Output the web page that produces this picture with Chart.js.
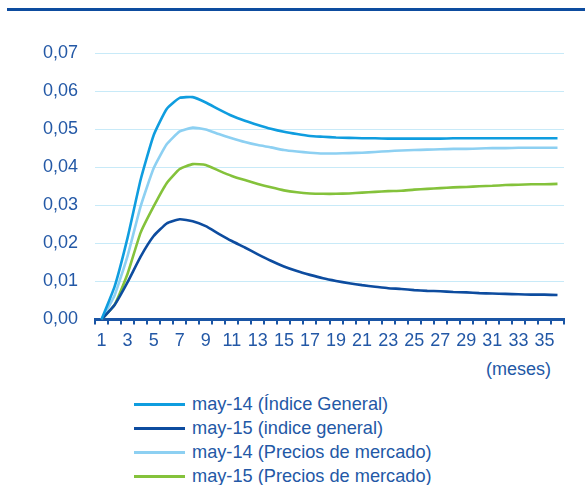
<!DOCTYPE html>
<html><head><meta charset="utf-8">
<script src="https://cdn.jsdelivr.net/npm/chart.js@4"></script>
<style>
html,body{margin:0;padding:0;background:#fff;width:585px;height:485px;overflow:hidden;font-family:"Liberation Sans",Arial,sans-serif;}
#topline{position:absolute;left:7px;top:8px;width:578px;height:3px;background:#0d4c9f;}
#wrap{position:absolute;left:0;top:0;width:585px;height:358px;}
#unit{position:absolute;left:486px;top:359px;font-size:18px;color:#2358a6;}
#legend{position:absolute;left:134px;top:392px;font-size:18.2px;color:#2358a6;}
.li{height:24px;line-height:24px;display:flex;align-items:center;white-space:nowrap;}
.sw{width:51px;height:3px;margin-right:7px;}
</style></head>
<body>
<div id="topline"></div>
<div id="wrap"><canvas id="c"></canvas></div>
<div id="unit">(meses)</div>
<div id="legend"></div>
<script>
const months = Array.from({length:36},(_,i)=>String(i+1));
const seriesNames = ["may-14 (Índice General)","may-15 (indice general)","may-14 (Precios de mercado)","may-15 (Precios de mercado)"];
const may14General = [0,0.0086,0.0215,0.0367,0.0484,0.0553,0.0582,0.0584,0.0570,0.0552,0.0535,0.0522,0.0511,0.0501,0.0493,0.0487,0.0482,0.0480,0.0478,0.0477,0.0476,0.0476,0.0475,0.0475,0.0475,0.0475,0.0475,0.0476,0.0476,0.0476,0.0476,0.0476,0.0476,0.0476,0.0476,0.0476];
const may15General = [0,0.0038,0.0098,0.0165,0.0219,0.0252,0.0263,0.0258,0.0245,0.0225,0.0206,0.0189,0.0171,0.0154,0.0139,0.0127,0.0117,0.0108,0.0101,0.0095,0.0090,0.0086,0.0082,0.0080,0.0077,0.0075,0.0074,0.0072,0.0071,0.0069,0.0068,0.0067,0.0066,0.0065,0.0065,0.0064];
const may14Mercado = [0,0.0063,0.0167,0.0297,0.0397,0.0460,0.0494,0.0504,0.0499,0.0487,0.0476,0.0466,0.0458,0.0452,0.0445,0.0441,0.0438,0.0436,0.0436,0.0437,0.0438,0.0440,0.0442,0.0444,0.0445,0.0446,0.0447,0.0448,0.0448,0.0449,0.0450,0.0450,0.0451,0.0451,0.0451,0.0451];
const may15Mercado = [0,0.0038,0.0120,0.0228,0.0297,0.0358,0.0395,0.0408,0.0406,0.0391,0.0377,0.0366,0.0356,0.0347,0.0339,0.0334,0.0331,0.0330,0.0330,0.0331,0.0333,0.0335,0.0337,0.0338,0.0341,0.0343,0.0345,0.0347,0.0348,0.0350,0.0351,0.0353,0.0354,0.0355,0.0355,0.0356];
const yTicks = [0,0.01,0.02,0.03,0.04,0.05,0.06,0.07];
const colors = ["#0f9ddf","#0d4c9f","#8dd0f2","#84c23b"];
const TEXT = "#2358a6";
const allData = [may14General, may15General, may14Mercado, may15Mercado];

const datasets = allData.map((d,i)=>({
  label: seriesNames[i], data: d, borderColor: colors[i], backgroundColor: colors[i],
  borderWidth: 2.6, pointRadius: 0, tension: 0.15, fill:false
}));

new Chart(document.getElementById('c'), {
  type:'line',
  data:{labels:months, datasets},
  options:{
    responsive:true, maintainAspectRatio:false, animation:false,
    layout:{padding:{left:26,right:21,top:53,bottom:0}},
    plugins:{legend:{display:false}, tooltip:{enabled:false}},
    scales:{
      x:{
        type:'category', offset:true,
        grid:{offset:true, drawOnChartArea:false, drawTicks:true, tickLength:5, color:"#1a55a5", lineWidth:2},
        border:{display:true, color:"#1a55a5", width:3},
        ticks:{autoSkip:false, maxRotation:0, minRotation:0, padding:6, color:TEXT,
          font:{family:"'Liberation Sans', Arial, sans-serif", size:18},
          callback:(v,i)=> (i%2===0 ? months[i] : '')}
      },
      y:{
        min:0, max:0.07,
        afterBuildTicks:(ax)=>{ax.ticks = yTicks.map(v=>({value:v}));},
        grid:{color:"#c8eaf8", lineWidth:1, drawTicks:false},
        border:{display:false},
        ticks:{padding:17, color:TEXT, font:{family:"'Liberation Sans', Arial, sans-serif", size:18},
          callback:(v)=>Number(v).toFixed(2).replace('.',',')}
      }
    }
  }
});

const lg = document.getElementById('legend');
seriesNames.forEach((n,i)=>{
  const row = document.createElement('div'); row.className='li';
  const sw = document.createElement('span'); sw.className='sw'; sw.style.background=colors[i];
  const tx = document.createElement('span'); tx.textContent = n;
  row.appendChild(sw); row.appendChild(tx); lg.appendChild(row);
});
</script>
</body></html>
